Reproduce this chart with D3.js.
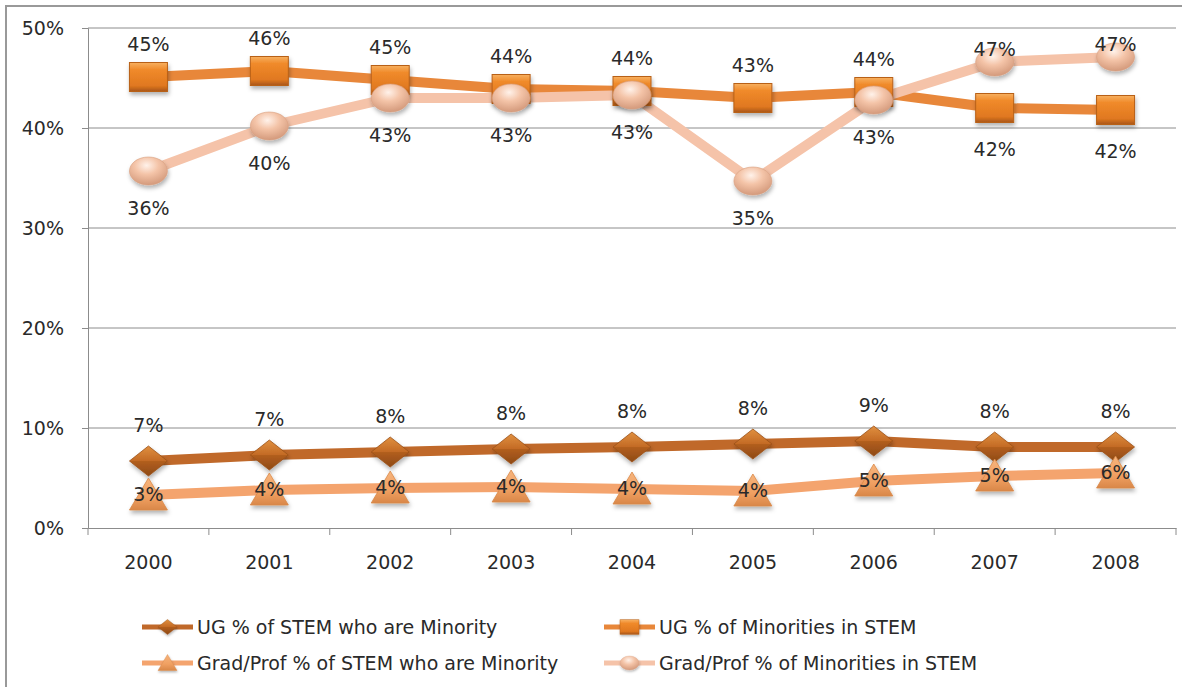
<!DOCTYPE html>
<html><head><meta charset="utf-8">
<script src="https://cdn.jsdelivr.net/npm/d3@7"></script>
<style>html,body{margin:0;padding:0;background:#fff;} svg{display:block;}</style>
</head><body>
<svg id="c" width="1182" height="687"></svg>
<script>
const years = ["2000","2001","2002","2003","2004","2005","2006","2007","2008"];
const ugStemMinority   = [6.7, 7.3, 7.6, 7.9, 8.1, 8.4, 8.7, 8.1, 8.1];
const ugMinoritiesStem = [45.1, 45.7, 44.8, 43.9, 43.7, 43.0, 43.6, 42.0, 41.8];
const gradStemMinority = [3.3, 3.8, 4.0, 4.1, 3.9, 3.7, 4.7, 5.2, 5.5];
const gradMinoritiesStem = [35.7, 40.2, 43.0, 43.0, 43.3, 34.7, 42.8, 46.6, 47.1];
const yTicks = [0, 10, 20, 30, 40, 50];
const seriesNames = ["UG % of STEM who are Minority","UG % of Minorities in STEM","Grad/Prof % of STEM who are Minority","Grad/Prof % of Minorities in STEM"];

const svg = d3.select("#c");
const font = "'DejaVu Sans', Verdana, sans-serif";
const FS = 19;
const txtCol = "#2a2a2a";
const defs = svg.append("defs");

function lin(id, stops){ const g=defs.append("linearGradient").attr("id",id).attr("x1",0).attr("y1",0).attr("x2",0).attr("y2",1);
  stops.forEach(s=>g.append("stop").attr("offset",s[0]).attr("stop-color",s[1])); }
lin("gSq", [[0,"#f7b060"],[0.25,"#f08a2a"],[0.8,"#e07820"],[1,"#a85518"]]);
lin("gDi", [[0,"#e0903f"],[0.5,"#c36a25"],[0.51,"#b25e1e"],[1,"#8e4a16"]]);
lin("gTr", [[0,"#f6b47c"],[0.6,"#f0a062"],[1,"#d98748"]]);
const rg = defs.append("radialGradient").attr("id","gCi").attr("cx","0.45").attr("cy","0.3").attr("r","0.7");
[[0,"#fff2ea"],[0.45,"#f4c4a8"],[1,"#d49a7c"]].forEach(s=>rg.append("stop").attr("offset",s[0]).attr("stop-color",s[1]));
const flt = defs.append("filter").attr("id","sh").attr("x","-30%").attr("y","-30%").attr("width","160%").attr("height","170%");
flt.append("feDropShadow").attr("dx",1).attr("dy",3).attr("stdDeviation",2).attr("flood-color","#000").attr("flood-opacity",0.3);

svg.append("line").attr("x1",5).attr("x2",1182).attr("y1",6).attr("y2",6).attr("stroke","#999").attr("stroke-width",2);
svg.append("line").attr("x1",6).attr("x2",6).attr("y1",5).attr("y2",687).attr("stroke","#999").attr("stroke-width",2);

const pL=88, pR=1176, pT=28, pB=528;
const x = d3.scaleBand().domain(years).range([pL,pR]);
const y = d3.scaleLinear().domain([0,50]).range([pB,pT]);
const cx = d => x(d)+x.bandwidth()/2;

svg.append("g").selectAll("line").data(yTicks.filter(t=>t>0)).join("line")
  .attr("x1",pL).attr("x2",pR).attr("y1",d=>y(d)).attr("y2",d=>y(d))
  .attr("stroke","#8c8c8c").attr("stroke-width",1);

const yAxis = svg.append("g").attr("transform",`translate(${pL},0)`)
  .call(d3.axisLeft(y).tickValues(yTicks).tickFormat(d=>d+"%").tickSize(6).tickPadding(18));
const xAxis = svg.append("g").attr("transform",`translate(0,${pB})`)
  .call(d3.axisBottom(x).tickSize(0).tickPadding(28));
[yAxis,xAxis].forEach(a=>{a.select(".domain").attr("stroke","#8c8c8c");
  a.selectAll(".tick line").attr("stroke","#8c8c8c");
  a.selectAll("text").attr("font-family",font).attr("font-size",FS).attr("fill",txtCol);});
svg.append("g").selectAll("line").data(years.concat(["end"])).join("line")
  .attr("x1",(d,i)=>pL+i*x.bandwidth()).attr("x2",(d,i)=>pL+i*x.bandwidth())
  .attr("y1",pB).attr("y2",pB+7).attr("stroke","#8c8c8c");

const W=38,H=30;
const shapes = {
  sq: g=>g.append("rect").attr("x",-W/2).attr("y",-H/2+0.5).attr("width",W).attr("height",H-1).attr("fill","url(#gSq)").attr("stroke","#b86018").attr("stroke-width",1),
  di: g=>g.append("path").attr("d",`M0,${-H/2} L${W/2},0 L0,${H/2} L${-W/2},0Z`).attr("fill","url(#gDi)").attr("stroke","#9a5018").attr("stroke-width",0.8),
  tr: g=>g.append("path").attr("d",`M0,${-H/2-2} L${W/2},${H/2} L${-W/2},${H/2}Z`).attr("fill","url(#gTr)").attr("stroke","#d88848").attr("stroke-width",0.8),
  ci: g=>g.append("ellipse").attr("rx",W/2).attr("ry",H/2-1).attr("fill","url(#gCi)").attr("stroke","#d8a080").attr("stroke-width",0.6)
};

const series = [
  {name:seriesNames[0], data:ugStemMinority, color:"#c0692a", shape:"di"},
  {name:seriesNames[2], data:gradStemMinority, color:"#f4a46e", shape:"tr"},
  {name:seriesNames[1], data:ugMinoritiesStem, color:"#e8873a", shape:"sq"},
  {name:seriesNames[3], data:gradMinoritiesStem, color:"#f5c3a9", shape:"ci"}
];
const line = d3.line().x((d,i)=>cx(years[i])).y(d=>y(d));

series.forEach(s=>{
  svg.append("path").datum(s.data).attr("d",line).attr("fill","none")
    .attr("stroke",s.color).attr("stroke-width",10).attr("stroke-linejoin","round");
});
series.forEach(s=>{
  const g = svg.append("g");
  s.data.forEach((v,i)=>{
    const m = g.append("g").attr("transform",`translate(${cx(years[i])},${y(v)})`).attr("filter","url(#sh)");
    shapes[s.shape](m);
  });
});

function lbl(xv, yv, t){ svg.append("text").attr("x",xv).attr("y",yv).attr("text-anchor","middle")
  .attr("font-family",font).attr("font-size",FS).attr("fill",txtCol).text(t); }
years.forEach((yr,i)=>{
  const X = cx(yr);
  const a = ugMinoritiesStem[i], b = gradMinoritiesStem[i];
  if (a >= b) { lbl(X, y(a)-26, Math.round(a)+"%"); lbl(X, y(b)+44, Math.round(b)+"%"); }
  else { lbl(X, y(b)-6, Math.round(b)+"%"); lbl(X, y(a)+48, Math.round(a)+"%"); }
  lbl(X, y(ugStemMinority[i])-29, Math.round(ugStemMinority[i])+"%");
  lbl(X, y(gradStemMinority[i])+6, Math.round(gradStemMinority[i])+"%");
});

const legendItems = [
  {s:series[0], lx:142, ly:627},
  {s:series[2], lx:604, ly:627},
  {s:series[1], lx:142, ly:663},
  {s:series[3], lx:604, ly:663}
];
legendItems.forEach(it=>{
  const g = svg.append("g").attr("transform",`translate(${it.lx},${it.ly})`);
  g.append("line").attr("x1",0).attr("x2",51).attr("stroke",it.s.color).attr("stroke-width",5);
  const m = g.append("g").attr("transform","translate(25.5,0) scale(0.5)").attr("filter","url(#sh)");
  shapes[it.s.shape](m);
  g.append("text").attr("x",55).attr("y",7).attr("font-family",font).attr("font-size",FS).attr("fill",txtCol).text(it.s.name);
});
</script>
</body></html>
